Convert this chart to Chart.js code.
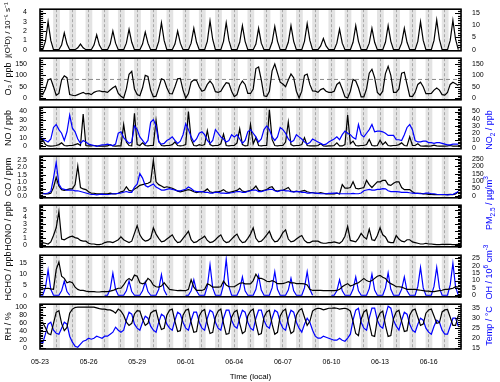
<!DOCTYPE html>
<html>
<head>
<meta charset="utf-8">
<script src="https://cdn.jsdelivr.net/npm/chart.js@4.4.1/dist/chart.umd.min.js"></script>
<style>
  body { margin: 0; background: #fff; }
  #wrap { position: relative; width: 500px; height: 382px; overflow: hidden; font-family: "Liberation Sans", Arial, sans-serif; }
  #wrap canvas { position: absolute; left: 0; }
  .rt { position: absolute; color: #00f; font-size: 9px; white-space: nowrap; transform: translate(-50%, -50%) rotate(-90deg); }
  .rt sub, .rt sup { font-size: 6.5px; line-height: 0; }
</style>
</head>
<body>
<div id="wrap">
  <canvas id="c1" width="500" height="60"></canvas>
  <canvas id="c2" width="500" height="60"></canvas>
  <canvas id="c3" width="500" height="60"></canvas>
  <canvas id="c4" width="500" height="60"></canvas>
  <canvas id="c5" width="500" height="60"></canvas>
  <canvas id="c6" width="500" height="60"></canvas>
  <canvas id="c7" width="500" height="87"></canvas>
  <div class="rt" style="left:489px;top:130px">NO<sub>2</sub> / ppb</div>
  <div class="rt" style="left:489px;top:203px">PM<sub>2.5</sub> / µg/m<sup>3</sup></div>
  <div class="rt" style="left:489px;top:272px">OH / 10<sup>6</sup> cm<sup>-3</sup></div>
  <div class="rt" style="left:489px;top:326px">Temp / °C</div>
</div>
<script>
// samples every 4 h starting 05-23 00:00 local, 6 per day, 26 days
const STEP_H = 4;
const N_DAYS = 26;
const X_LABELS = ['05-23', '05-26', '05-29', '06-01', '06-04', '06-07', '06-10', '06-13', '06-16'];
const NIGHT = [19.5, 29.5];   // shaded hours (evening -> next morning)
const O3_LIMIT = 82;

const jO1D = [
  0,0,0.9,3.0,1.0,0,  0,0,0.5,1.8,0.6,0,  0,0,0.2,0.6,0.2,0,  0,0,0.5,1.6,0.5,0,
  0,0,0.6,2.0,0.7,0,  0,0,0.7,2.2,0.8,0,  0,0,0.6,1.9,0.7,0,  0,0,0.9,2.9,1.0,0,
  0,0,0.6,2.0,0.7,0,  0,0,0.7,2.3,0.8,0,  0,0,0.9,3.1,1.1,0,  0,0,0.9,2.9,1.0,0,
  0,0,0.8,2.6,0.9,0,  0,0,0.6,2.3,0.7,0,  0,0,0.8,2.5,0.9,0,  0,0,0.8,2.6,0.9,0,
  0,0,0.9,2.8,1.0,0,  0,0,0.4,1.2,0.4,0,  0,0,0.7,2.2,0.7,0,  0,0,0.8,2.6,0.9,0,
  0,0,0.7,2.3,0.8,0,  0,0,0.8,2.6,0.9,0,  0,0,0.7,2.3,0.8,0,  0,0,0.9,3.0,1.0,0,
  0,0,1.0,3.2,1.1,0,  0,0,1.0,3.15,1.1,0
];
const o3 = [
  12,15,40,80,85,50,  12,20,80,98,90,15,  12,10,15,20,25,18,  20,15,25,30,32,28,
  28,25,35,45,52,20,  8,0,40,105,118,40,  15,10,45,100,95,35,  5,8,45,85,80,45,
  20,18,50,85,87,35,  0,20,70,80,78,50,  30,35,60,75,60,28,  25,30,50,68,65,30,
  6,15,55,75,60,20,  20,40,130,137,80,10,  6,30,120,150,110,70,  62,50,80,106,90,30,
  0,30,100,106,60,31,  30,25,37,42,30,25,  25,30,60,70,40,5,  0,30,82,75,45,5,
  5,40,110,127,90,25,  13,30,108,140,100,25,  25,40,110,114,60,8,  6,25,60,70,50,19,
  19,20,35,44,35,15,  13,25,60,70,63,55
];
const no = [
  3,8,2,0.5,0.3,0.5,  1,2,4,1,0.5,1,  1,2,3,1,37,1,  0.5,0.5,1,0.5,0.3,0.3,
  0.3,0.5,2,0.5,0.3,0.5,  0.5,25,5,1,0.5,38,  2,1,4,1,0.5,1,  1,30,6,1,0.5,1,
  1,2,5,1,0.5,1,  2,40,8,1,0.5,2,  1,2,18,2,0.5,1,  1,3,14,1,0.5,1,
  1,4,20,2,0.5,1,  25,3,10,1,0.5,1,  1,42,8,1,0.5,1,  1,5,28,2,0.5,1,
  1,2,10,1,0.5,0.5,  0.5,1,3,0.5,0.3,0.5,  0.5,1,4,0.5,0.5,2,  36,3,6,1,0.5,1,
  1,2,8,1,0.5,1,  7,2,5,1,0.5,1,  1,2,4,1,0.5,11,  1,1,3,0.5,0.3,0.5,
  0.3,0.5,1.5,0.5,0.3,0.3,  0.3,0.5,1,0.3,0.3,0.3
];
const no2 = [
  15,12,10,8,12,28,  32,25,20,10,22,45,  27,22,12,6,10,8,  5,4,3,2,3,4,
  4,5,4,3,5,20,  22,14,10,6,8,30,  25,15,10,5,10,35,  39,30,8,5,6,10,
  12,15,10,6,9,18,  33,25,15,8,12,20,  22,18,10,6,10,25,  20,15,12,8,10,18,
  15,18,12,6,10,22,  25,20,15,8,12,25,  30,25,15,10,15,28,  25,20,12,8,10,18,
  15,12,8,5,7,12,  10,8,6,4,5,8,  10,12,15,11,18,23,  20,18,14,12,32,18,
  15,20,25,32,22,23,  23,22,20,17,17,17,  11,11,10,18,28,32,  25,10,8,8,9,9,
  7,7,6,7,7,6,  5,4,4,5,5,5
];
const co = [
  0.2,0.2,0.15,0.15,0.2,0.6,  1.3,0.7,0.45,0.4,0.45,0.5,  0.5,0.8,2.1,0.6,0.5,0.45,  0.3,0.2,0.2,0.15,0.15,0.15,
  0.15,0.15,0.2,0.15,0.15,0.2,  0.3,0.35,0.65,0.4,0.35,0.5,  0.6,0.75,0.8,0.85,0.9,1.0,  2.5,1.0,0.8,0.7,0.6,0.65,
  0.6,0.55,0.45,0.35,0.3,0.35,  0.4,0.45,0.4,0.3,0.25,0.3,  0.3,0.35,0.5,0.3,0.25,0.3,  0.3,0.35,0.45,0.3,0.25,0.3,
  0.35,0.4,0.55,0.35,0.3,0.35,  0.4,0.5,0.7,0.4,0.35,0.4,  0.45,0.6,0.65,0.4,0.35,0.4,  0.4,0.5,0.6,0.35,0.3,0.35,
  0.3,0.35,0.4,0.3,0.25,0.25,  0.2,0.2,0.25,0.2,0.15,0.15,  0.15,0.15,0.2,0.15,0.8,0.55,  0.55,0.6,1.0,0.55,0.5,0.55,
  0.6,1.1,0.8,0.6,0.8,1.0,  1.0,1.1,1.1,0.8,0.75,0.9,  1.0,1.0,0.6,0.45,0.45,0.45,  0.3,0.2,0.2,0.2,0.15,0.15,
  0.12,0.12,0.1,0.1,0.1,0.1,  0.1,0.1,0.12,0.1,0.15,0.3
];
const pm25 = [
  20,15,15,20,30,120,  225,80,50,45,40,40,  40,35,35,30,25,20,  15,10,10,8,10,12,
  10,10,12,15,15,18,  20,25,30,25,25,60,  80,150,120,70,60,70,  80,60,50,40,40,45,
  50,45,40,35,35,40,  45,60,50,35,30,30,  30,25,25,20,20,25,  25,20,20,18,20,22,
  25,30,30,25,25,30,  35,40,40,30,30,35,  40,45,45,35,30,35,  40,35,35,30,28,30,
  30,25,25,20,20,22,  20,18,15,15,15,18,  18,20,20,15,15,15,  15,15,18,15,15,20,
  35,40,45,40,40,45,  45,50,48,35,30,30,  30,28,25,25,25,22,  20,18,18,15,15,20,
  20,15,15,12,10,10,  10,8,10,10,20,30
];
const hono = [
  0.3,0.4,0.3,0.2,0.5,1.4,  2.5,4.8,0.9,0.8,1.0,1.2,  1.3,1.1,1.0,0.7,0.6,0.6,  0.3,0.2,0.2,0.1,0.1,0.2,
  0.4,0.5,0.5,0.4,0.6,0.8,  1.2,0.8,0.6,0.4,0.6,1.7,  2.8,1.5,0.9,0.6,0.7,1.0,  2.5,1.6,1.0,0.5,0.6,0.9,
  1.2,1.5,0.8,0.4,0.5,1.0,  1.5,2.0,0.8,0.4,0.5,0.8,  1.0,1.3,0.7,0.4,0.5,0.8,  1.2,1.5,0.7,0.4,0.5,0.9,
  1.3,1.6,0.8,0.4,0.5,1.0,  1.6,2.5,1.0,0.5,0.6,1.0,  1.5,2.0,1.0,0.5,0.6,1.1,  1.8,2.2,0.9,0.5,0.6,0.9,
  1.2,1.4,0.7,0.4,0.4,0.6,  0.6,0.6,0.4,0.3,0.3,0.4,  0.4,0.5,0.4,0.3,0.6,1.3,  2.7,0.7,0.6,0.5,1.0,1.7,
  1.2,0.9,2.3,0.8,0.7,1.4,  2.5,1.5,1.2,0.5,0.4,0.4,  1.4,0.9,0.6,0.5,0.8,0.8,  0.5,0.4,0.3,0.2,0.2,0.3,
  0.2,0.2,0.15,0.1,0.1,0.15,  0.15,0.15,0.15,0.1,0.1,0.15
];
const hcho = [
  3,3.2,3.4,3.5,3.2,3.0,  12,15.5,9,8,6,6.5,  6,4,3,2.5,2.5,2.2,  2,2,2,1.8,1.8,2,
  2,2,2.2,2.5,3,3.5,  3.5,5,7,8,7,9.5,  9,6,5.5,6,8,7,  5,4.2,4,4.5,6,4.5,
  3,2.8,2.6,2.4,2.5,2.4,  2.4,3,7.4,4,2.5,2.5,  2.5,3,5.5,5,4,4,  4,4.2,6.7,5,4.2,4.2,
  4.2,5,5.8,6,5.5,5.5,  5.5,7,9.9,8,8,7.5,  6.7,6.5,7,6.5,5.6,5.6,  5.6,6,6.5,6,6,5.6,
  5.6,5.6,5.5,5,3,2.5,  2.5,2.5,2.5,2.4,2.4,2.4,  2.4,2.4,2.5,3,4.2,5,  5.6,4.5,5,5.6,6,7,
  8,7,6.5,7,8,9,  9.4,8.5,8,6.5,5.6,5,  4.2,4.2,4,3.5,3,3,  3,3,2.8,2.6,2.4,2.2,
  2.2,2,2,2.2,2.4,2.6,  3,3,3.2,3.5,4.2,4
];
const oh = [
  0,0,5,17,4,0,  0,0,3,9.6,2.5,0,  null,null,null,null,null,null,  null,null,null,null,null,null,
  0,0,4,15,4,0,  0,0,3,9.6,2.5,0,  0,0,3,9,2.5,0,  0,0,4,14,3.5,0,
  null,null,null,null,null,null,  0,0,3,10.5,3,0,  0,0,6,20.7,5,0,  0,0,7,24.4,6,0,
  0,0,4,12.4,3,0,  0,0,4,13.3,3.5,0,  0,0,5,16,4,0,  0,0,3.5,11.5,3,0,
  0,0,5,16,4,0,  null,null,null,null,null,null,  0,0,3,10.5,3,0,  0,0,4,12.4,3,0,
  0,0,4.5,14.3,3.5,0,  0,0,5,15.2,4,0,  0,0,4,12.4,3,0,  0,0,6,18.9,5,0,
  0,0,6,18.9,5,0,  0,0,7,21.7,5.5,0
];
const rh = [
  60,62,50,35,32,60,  87,91,60,42,50,85,  95,99,100,100,100,100,  100,100,100,98,96,95,
  95,93,93,90,85,95,  90,80,63,55,60,83,  91,90,70,55,60,85,  90,92,65,45,48,80,
  92,95,65,40,42,80,  92,95,62,38,40,78,  90,94,60,35,38,75,  90,95,60,33,35,75,
  88,92,60,35,40,78,  90,95,60,32,35,75,  88,92,58,33,38,78,  90,95,60,35,40,80,
  92,96,75,55,65,90,  95,97,96,93,95,97,  97,98,97,95,96,97,  95,90,65,35,30,70,
  88,93,60,30,28,70,  85,90,55,28,30,72,  88,92,65,40,42,80,  92,95,75,55,58,85,
  93,95,78,60,62,88,  93,94,75,55,55,80
];
const temp = [
  18,17.5,22,27,28,24,  22.5,22,25,28,27,21,  18,16,15.5,17,18.5,19,  20,19.5,20,21,20.5,20,
  21,21,22,23,25.5,24,  23,24,29,33,32,27,  25,24,28,31,30,26,  24,23,28,32,31,27,
  25,24,29,33,32,28,  25,24,29,33,33,28,  25,24,30,34,33,28,  25,24,30,34,34,29,
  26,25,30,34,33,28,  25,24,30,34,34,29,  26,25,30,34,33,28,  25,24,30,34,33,28,
  25,23,27,30,28,24,  21,20,20,21,20.5,20,  19.5,19,19,20,19,18.5,  20,22,29,34,35,28,
  25,24,30,35,35,29,  26,25,31,36,35,29,  26,24,29,33,32,27,  24,23,27,30,29,25,
  23,22,26,29,28,24,  22,22,26,30,30,26
];

const BLACK = '#000000';
const BLUE = '#0000ff';

const panels = [
  { el: 'c1', top: 6,
    left:  { min: -0.12, max: 4.36, step: 1, minor: 0.2, title: 'j(O¹D) / 10⁻⁵ s⁻¹', titleSize: 8 },
    right: { min: -0.5, max: 16.6, step: 5, minor: 1 },
    series: [{ data: jO1D, axis: 'yL', color: BLACK }] },
  { el: 'c2', top: 55, limit: O3_LIMIT,
    left:  { min: -8, max: 176, step: 50, minor: 10, title: 'O₃ / ppb' },
    right: { min: -8, max: 176, step: 50, minor: 10 },
    series: [{ data: o3, axis: 'yL', color: BLACK }] },
  { el: 'c3', top: 104,
    left:  { min: -2.8, max: 45, step: 10, minor: 2, title: 'NO / ppb' },
    right: { min: -1.5, max: 56, step: 10, minor: 2 },
    series: [{ data: no2, axis: 'yR', color: BLUE }, { data: no, axis: 'yL', color: BLACK }] },
  { el: 'c4', top: 153,
    left:  { min: -0.12, max: 2.79, step: 0.5, minor: 0.1, dec: 1, title: 'CO / ppm' },
    right: { min: -12, max: 267, step: 50, minor: 10 },
    series: [{ data: pm25, axis: 'yR', color: BLUE }, { data: co, axis: 'yL', color: BLACK }] },
  { el: 'c5', top: 202,
    left:  { min: -0.2, max: 5.7, step: 1, minor: 0.2, title: 'HONO / ppb' },
    right: { min: -0.2, max: 5.7, step: 1, minor: 0.2, labels: false },
    series: [{ data: hono, axis: 'yL', color: BLACK }] },
  { el: 'c6', top: 252,
    left:  { min: -0.4, max: 18.6, step: 5, minor: 1, title: 'HCHO / ppb' },
    right: { min: -1.06, max: 27.2, step: 5, minor: 1 },
    series: [{ data: hcho, axis: 'yL', color: BLACK }, { data: oh, axis: 'yR', color: BLUE }] },
  { el: 'c7', top: 301,
    left:  { min: -3, max: 107, step: 20, minor: 4, title: 'RH / %' },
    right: { min: 14.6, max: 37, step: 5, minor: 1 },
    series: [{ data: rh, axis: 'yL', color: BLACK }, { data: temp, axis: 'yR', color: BLUE }] }
];

Chart.defaults.font.family = '"Liberation Sans", Arial, sans-serif';
Chart.defaults.font.size = 7;
Chart.defaults.color = '#000';

// grey night bands behind everything
const nightBands = {
  id: 'nightBands',
  beforeDraw(chart) {
    const { ctx, chartArea: a, scales: { x } } = chart;
    ctx.save();
    ctx.beginPath();
    ctx.rect(a.left, a.top, a.width, a.height);
    ctx.clip();
    ctx.fillStyle = '#e3e3e3';
    for (let d = -1; d <= N_DAYS; d++) {
      const x1 = x.getPixelForValue(d * 24 + NIGHT[0]);
      const x2 = x.getPixelForValue(d * 24 + NIGHT[1]);
      ctx.fillRect(x1, a.top, x2 - x1, a.height);
    }
    ctx.restore();
  }
};

// box around the panel + inward major/minor ticks on both y axes
function frameFor(p) {
  return {
    id: 'frame',
    afterDatasetsDraw(chart) {
      const { ctx, chartArea: a } = chart;
      ctx.save();
      ctx.strokeStyle = '#000';
      ctx.lineWidth = 1;
      [['yL', p.left, a.left, 1], ['yR', p.right, a.right, -1]].forEach(([id, ax, x0, dir]) => {
        const s = chart.scales[id];
        const k0 = Math.ceil(ax.min / ax.minor - 1e-6), k1 = Math.floor(ax.max / ax.minor + 1e-6);
        ctx.beginPath();
        for (let k = k0; k <= k1; k++) {
          const v = k * ax.minor;
          const r = v / ax.step;
          const len = Math.abs(r - Math.round(r)) < 1e-6 ? 6 : 3;
          const y = Math.round(s.getPixelForValue(v)) + 0.5;
          ctx.moveTo(x0, y);
          ctx.lineTo(x0 + dir * len, y);
        }
        ctx.stroke();
      });
      ctx.lineWidth = 1.6;
      ctx.strokeRect(a.left, a.top, a.width, a.height);
      ctx.restore();
    }
  };
}

function yScale(ax, pos) {
  return {
    type: 'linear', position: pos, min: ax.min, max: ax.max,
    afterFit: s => { s.width = pos === 'left' ? 40 : 39; },
    grid: { display: false },
    border: { display: false },
    ticks: {
      stepSize: ax.step, includeBounds: false, autoSkip: false,
      padding: pos === 'left' ? 5 : 3,
      display: ax.labels !== false,
      callback: v => ax.dec ? v.toFixed(ax.dec) : v
    },
    title: { display: !!ax.title, text: ax.title || '', font: { size: ax.titleSize || 9 }, padding: { top: 3, bottom: 0 } }
  };
}

panels.forEach((p, i) => {
  const last = i === panels.length - 1;
  const canvas = document.getElementById(p.el);
  canvas.style.top = (p.top - 6) + 'px';

  const datasets = p.series.map(s => ({
    data: s.data.map((y, k) => ({ x: k * STEP_H, y })),
    yAxisID: s.axis,
    borderColor: s.color,
    borderWidth: 1.2,
    pointRadius: 0,
    spanGaps: false
  }));
  if (p.limit) {
    datasets.push({
      data: [{ x: 0, y: p.limit }, { x: N_DAYS * 24, y: p.limit }],
      yAxisID: 'yL', borderColor: '#888', borderWidth: 1, borderDash: [4, 3], pointRadius: 0
    });
  }

  new Chart(canvas, {
    type: 'line',
    data: { datasets },
    options: {
      responsive: false,
      animation: false,
      events: [],
      layout: { padding: { top: 6, bottom: last ? 0 : 6, left: 0, right: 0 } },
      plugins: { legend: { display: false }, tooltip: { enabled: false } },
      scales: {
        x: {
          type: 'linear', min: 0, max: N_DAYS * 24,
          afterFit: s => { s.height = last ? 33 : 0; },
          border: { display: false, dash: [3, 2] },
          grid: { color: '#9a9a9a', lineWidth: 0.8, drawTicks: false },
          ticks: {
            display: last, stepSize: 24, autoSkip: false, maxRotation: 0, padding: 9,
            callback: v => v % 72 === 0 ? X_LABELS[v / 72] : ''
          },
          title: { display: last, text: 'Time (local)', font: { size: 8 }, padding: { top: 3, bottom: 0 } }
        },
        yL: yScale(p.left, 'left'),
        yR: yScale(p.right, 'right')
      }
    },
    plugins: [nightBands, frameFor(p)]
  });
});
</script>
</body>
</html>
